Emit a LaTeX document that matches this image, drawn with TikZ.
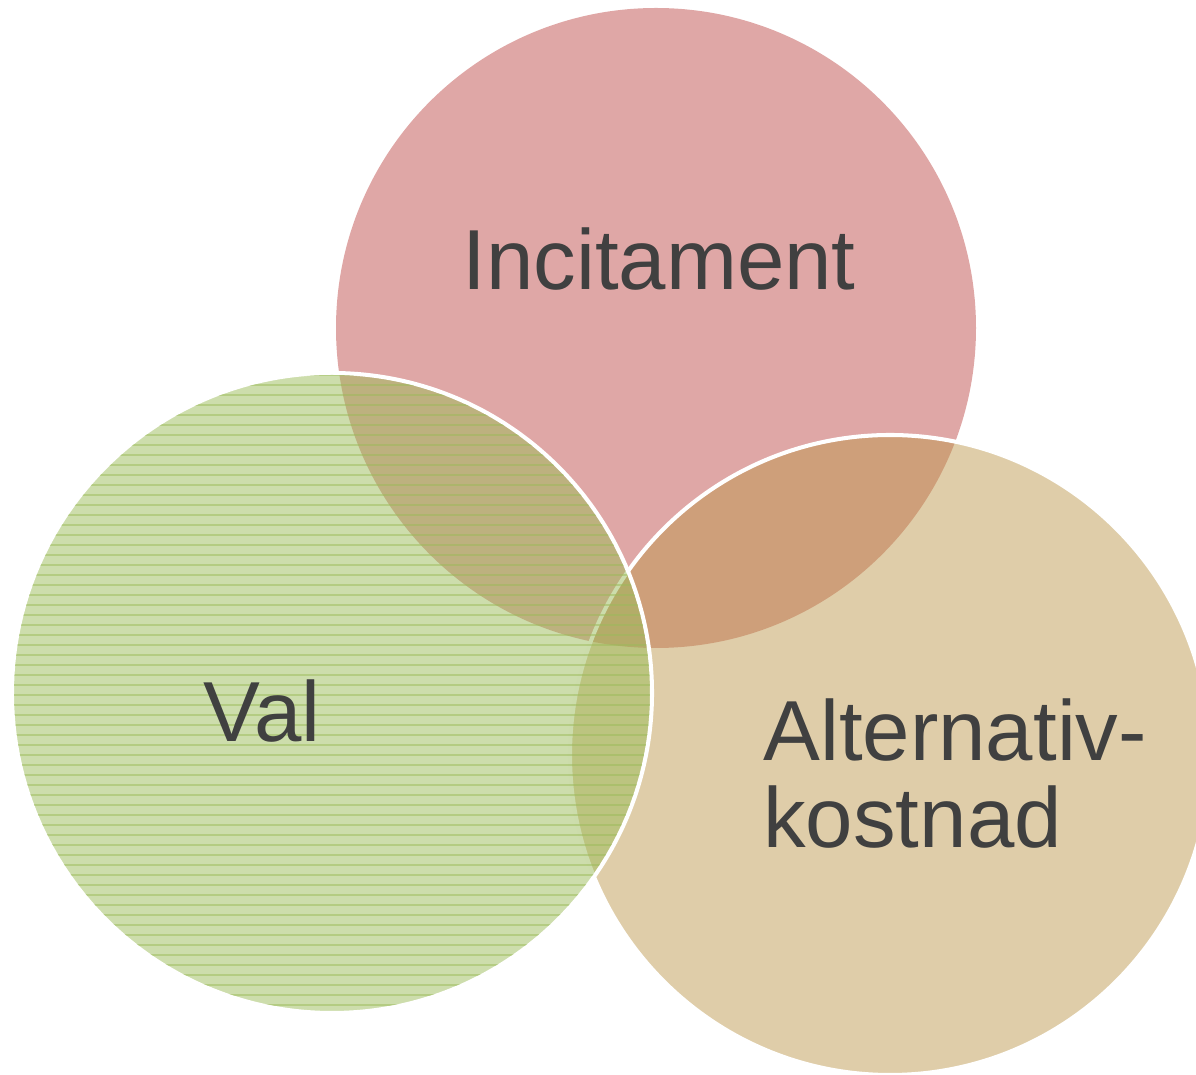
\documentclass[tikz,border=0pt]{standalone}
\usepackage{fontspec}
\setmainfont{Liberation Sans}
\usetikzlibrary{patterns.meta}

\definecolor{incred}{HTML}{C0504D}
\definecolor{valgreen}{HTML}{9BBB59}
\definecolor{alttan}{HTML}{BC974C}
\definecolor{labelgray}{HTML}{404040}

\tikzset{
  bubble/.style={draw=white, line width=2.3pt, fill opacity=0.5},
  label text/.style={text=labelgray, inner sep=0pt, font=\fontsize{48.5}{50}\selectfont}
}

\begin{document}
\begin{tikzpicture}
  % Define dimensions
  \def\r{6.4}
  \def\gap{0.2cm}
  \useasboundingbox (0,0) rectangle (23.92,21.5);

  % Define centres
  \coordinate (I) at (13.12,14.94);
  \coordinate (V) at (6.64,7.64);
  \coordinate (A) at (17.8,6.4);

  % Draw circles
  \fill[incred, fill opacity=0.5] (I) circle (\r);
  \path[bubble, fill=alttan, fill opacity=0.48] (A) circle (\r);
  \path[bubble, fill=valgreen] (V) circle (\r);
  \fill[pattern={Lines[angle=0, distance=\gap, line width=0.8pt]},
        pattern color=valgreen, opacity=0.5] (V) circle (\r-0.04);

  % Label circles
  \node[label text, anchor=base] (inc) at (13.18,15.7) {Incitament};
  \node[label text, anchor=base] (val) at (5.24,6.66) {Val};
  % base of a two-line node is the last line
  \node[label text, anchor=base west, align=left] (alt) at (15.26,4.54) {Alternativ-\\kostnad};
\end{tikzpicture}
\end{document}
